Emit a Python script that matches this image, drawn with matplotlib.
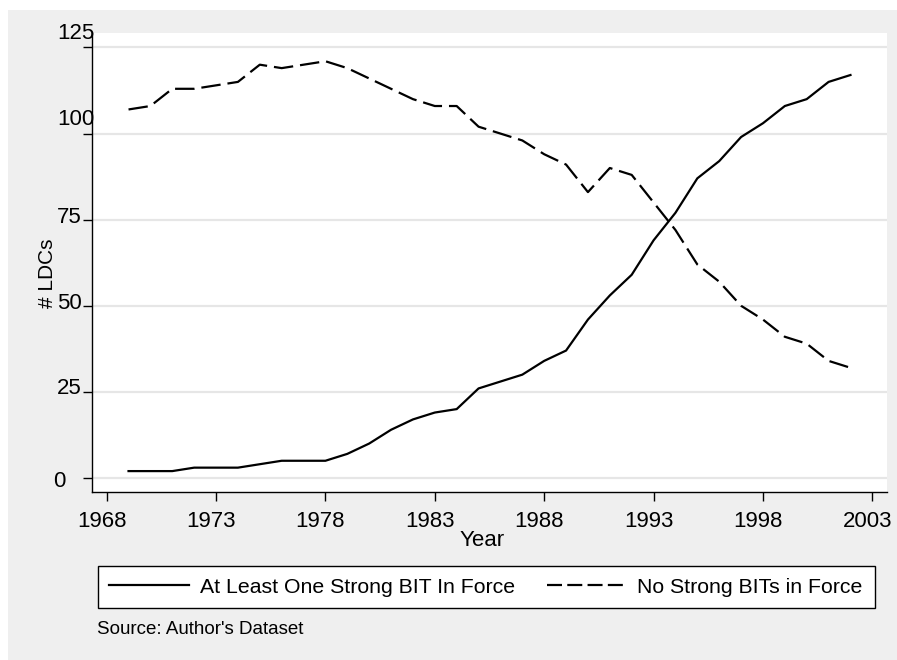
import matplotlib
matplotlib.use("Agg")
import matplotlib.pyplot as plt
from matplotlib.patches import Rectangle
from matplotlib.lines import Line2D
from matplotlib.transforms import offset_copy, ScaledTranslation

# ---- data ----
years = list(range(1969, 2003))
strong_bit = [2, 2, 2, 3, 3, 3, 4, 5, 5, 5,
              7, 10, 14, 17, 19, 20, 26, 28, 30, 34,
              37, 46, 53, 59, 69, 77, 87, 92, 99, 103,
              108, 110, 115, 117]
no_strong_bit = [107, 108, 113, 113, 114, 115, 120, 119, 120, 121,
                 119, 116, 113, 110, 108, 108, 102, 100, 98, 94,
                 91, 83, 90, 88, 80, 72, 62, 57, 50, 46,
                 41, 39, 34, 32]
x_ticks = [1968, 1973, 1978, 1983, 1988, 1993, 1998, 2003]
y_ticks = [0, 25, 50, 75, 100, 125]
series_labels = ["At Least One Strong BIT In Force", "No Strong BITs in Force"]
x_title = "Year"
y_title = "# LDCs"
note = "Source: Author's Dataset"

plt.rcParams['font.family'] = ['Liberation Sans', 'DejaVu Sans']
plt.rcParams['lines.scale_dashes'] = False

W, H = 897, 660
fig = plt.figure(figsize=(W / 100, H / 100), dpi=100, facecolor='white')

def px(x, y):
    return x / W, 1 - y / H

# gray outer region
fig.patches.append(Rectangle((8 / W, 0), 1 - 8 / W, (H - 10) / H,
                             transform=fig.transFigure, facecolor='#efefef',
                             edgecolor='none', zorder=-10))

L, R, T, B = 92, 887, 33, 492
ax = fig.add_axes([L / W, 1 - B / H, (R - L) / W, (B - T) / H])
ax.set_facecolor('white')

ax.plot(years, strong_bit, color='black', lw=1.6, solid_joinstyle='miter')
ax.plot(years, no_strong_bit, color='black', lw=1.6, dashes=(14, 5))

ax.set_xlim(1967.33, 2003.67)
ax.set_ylim(-4.07, 129.2)

ax.set_xticks(x_ticks)
ax.set_xticklabels([str(t) for t in x_ticks], fontsize=16)
ax.set_yticks(y_ticks)
ax.set_yticklabels([])
ax.tick_params(axis='both', direction='out', length=6.8, width=1.0, color='black')
ax.tick_params(axis='x', pad=7)
shift = ScaledTranslation(-5 / 100, 0, fig.dpi_scale_trans)
for lab in ax.get_xticklabels():
    lab.set_transform(lab.get_transform() + shift)

ax.grid(axis='y', color='#e6e6e6', lw=1.6)
ax.set_axisbelow(True)
for s in ['top', 'right']:
    ax.spines[s].set_visible(False)
for s in ['left', 'bottom']:
    ax.spines[s].set_color('black')
    ax.spines[s].set_linewidth(1.0)

# y tick labels, left-justified as in the original
lab_pos = {125: (57, 10.4), 100: (57, 10.1), 75: (57, 1.4),
           50: (57, 1.4), 25: (57, 2.2), 0: (53, -2.7)}
for v in y_ticks:
    xp, dy = lab_pos[v]
    tr = offset_copy(ax.get_yaxis_transform(), fig=fig, x=0, y=dy, units='points')
    ax.text((xp - L) / (R - L), v, str(v), transform=tr, ha='left', va='center',
            fontsize=16, clip_on=False)

ax.set_xlabel(x_title, fontsize=16, va='center')
ax.xaxis.set_label_coords((482 - L) / (R - L), (B - 541) / (B - T))
ax.set_ylabel(y_title, fontsize=15, va='center')
ax.yaxis.set_label_coords((47 - L) / (R - L), (B - 273) / (B - T))

handles = [Line2D([], [], color='black', lw=1.6),
           Line2D([], [], color='black', lw=1.6, dashes=(10.8, 3.8))]
leg = fig.legend(handles, series_labels, loc='upper left',
                 bbox_to_anchor=px(97.5, 566), ncol=2,
                 fontsize=15.3, handlelength=3.76, handletextpad=0.52,
                 columnspacing=1.47, borderpad=0.55, borderaxespad=0,
                 frameon=True, fancybox=False, framealpha=1,
                 edgecolor='black', facecolor='white')
leg.get_frame().set_linewidth(1.0)

fig.text(*px(97, 630), note, fontsize=13.5, ha='left', va='center')

fig.savefig('out.png', dpi=100, facecolor=fig.get_facecolor())
